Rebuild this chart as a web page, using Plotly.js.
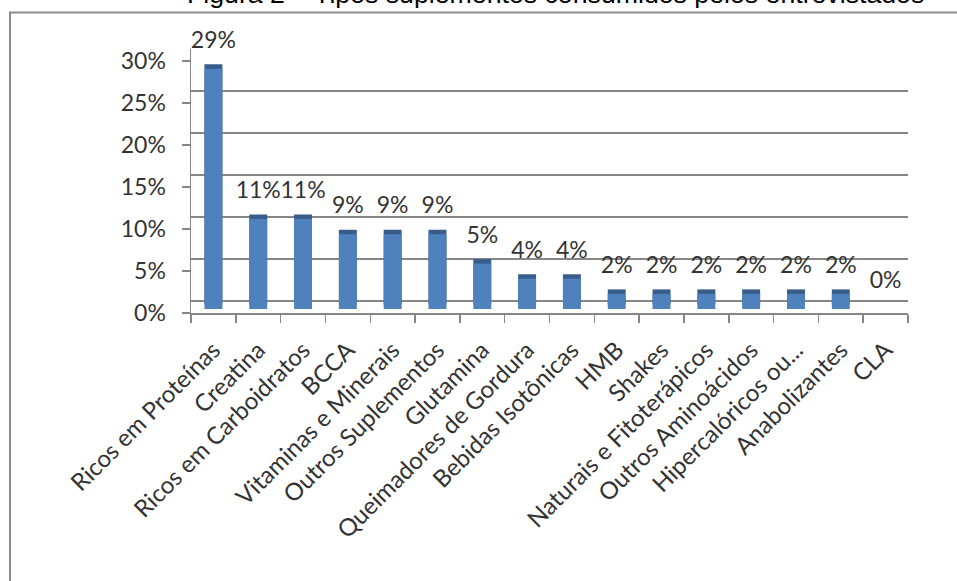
<!DOCTYPE html>
<html>
<head>
<meta charset="utf-8">
<script src="https://cdn.plot.ly/plotly-3.0.1.min.js"></script>
<style>
  html, body { margin: 0; padding: 0; background: #ffffff; }
  #chart { width: 957px; height: 581px; }
</style>
</head>
<body>
<div id="chart"></div>
<script>
// ---- data ----
const categories = [
  "Ricos em Proteínas", "Creatina", "Ricos em Carboidratos", "BCCA",
  "Vitaminas e Minerais", "Outros Suplementos", "Glutamina",
  "Queimadores de Gordura", "Bebidas Isotônicas", "HMB", "Shakes",
  "Naturais e Fitoterápicos", "Outros Aminoácidos", "Hipercalóricos ou...",
  "Anabolizantes", "CLA"
];
const percentages = [28.6, 10.7, 10.7, 8.9, 8.9, 8.9, 5.4, 3.6, 3.6, 1.8, 1.8, 1.8, 1.8, 1.8, 1.8, 0];
const yTickValues = [0, 5, 10, 15, 20, 25, 30];
const yTickLabels = ["0%", "5%", "10%", "15%", "20%", "25%", "30%"];
const chartTitle = "Figura 2 – Tipos suplementos consumidos pelos entrevistados";

// ---- styling ----
const barColor = "#4f81bd";
const capColor = "#385d8a";
const lineColor = "#868686";
const textColor = "#333333";
const font = "Lato, 'Open Sans', sans-serif";

// pixel geometry of the plot area
const W = 957, H = 581;
const L = 191, R = 908, T = 49, B = 313;
const pxPerUnit = 8.4;             // pixels per percentage point
function rangeWithZeroAt(zeroPx) {  // axis range so that 0 sits at pixel row zeroPx
  return [-(B - zeroPx) / pxPerUnit, (zeroPx - T) / pxPerUnit];
}

const traces = [
  { // anchors the front value axis (draws nothing)
    type: "scatter", mode: "none", x: categories, y: percentages, yaxis: "y",
    hoverinfo: "skip", showlegend: false
  },
  { // anchors the back-wall grid axis (draws nothing)
    type: "scatter", mode: "none", x: categories, y: percentages, yaxis: "y2",
    hoverinfo: "skip", showlegend: false
  },
  { // dark top of the 3D columns
    type: "bar", x: categories, y: percentages, yaxis: "y3",
    marker: { color: capColor }, hoverinfo: "skip", showlegend: false
  },
  { // front face of the columns
    type: "bar", x: categories, y: percentages, yaxis: "y4",
    marker: { color: barColor }, hoverinfo: "x+y", showlegend: false
  },
  { // data labels
    type: "bar", x: categories, y: percentages, yaxis: "y5",
    marker: { color: "rgba(0,0,0,0)" },
    texttemplate: "%{y:.0f}%", textposition: "outside", cliponaxis: false,
    constraintext: "none",
    textfont: { family: font, size: 23, color: textColor },
    hoverinfo: "skip", showlegend: false
  }
];

const hiddenAxis = (r) => ({
  overlaying: "y", range: r, visible: false, fixedrange: true
});

const layout = {
  width: W, height: H,
  margin: { l: L, r: W - R, t: T, b: H - B, pad: 0 },
  paper_bgcolor: "#ffffff", plot_bgcolor: "rgba(0,0,0,0)",
  bargap: 0.6,
  showlegend: false,
  font: { family: font, color: textColor },
  xaxis: {
    type: "category", domain: [0, 1],
    tickangle: -45, tickson: "boundaries",
    ticks: "outside", ticklen: 8, tickcolor: lineColor, tickwidth: 1.5,
    ticklabelstandoff: 12,
    showline: true, linecolor: lineColor, linewidth: 1.5,
    showgrid: false, zeroline: false,
    tickfont: { family: font, size: 24, color: textColor },
    fixedrange: true
  },
  yaxis: {
    range: rangeWithZeroAt(B), domain: [0, 1],
    tickmode: "array", tickvals: yTickValues, ticktext: yTickLabels,
    ticks: "outside", ticklen: 8, tickcolor: lineColor, tickwidth: 1.5,
    ticklabelstandoff: 11,
    showline: true, linecolor: lineColor, linewidth: 1.5,
    showgrid: false, zeroline: false,
    tickfont: { family: font, size: 23, color: textColor },
    fixedrange: true
  },
  yaxis2: { // back wall gridlines
    overlaying: "y", range: [rangeWithZeroAt(301)[0], 30.001],
    tickmode: "array", tickvals: yTickValues,
    showticklabels: false, ticks: "",
    showgrid: true, gridcolor: lineColor, gridwidth: 2,
    zeroline: false, showline: false, fixedrange: true
  },
  yaxis3: hiddenAxis(rangeWithZeroAt(304.5)),
  yaxis4: hiddenAxis(rangeWithZeroAt(309)),
  yaxis5: hiddenAxis(rangeWithZeroAt(296)),
  annotations: [{
    text: chartTitle, xref: "paper", yref: "paper",
    x: (555 - L) / (R - L), y: (B - 10.5) / (B - T),
    xanchor: "center", yanchor: "bottom", showarrow: false,
    font: { family: "'Liberation Sans', Arial, sans-serif", size: 26.7, color: "#000000" }
  }],
  shapes: [{
    type: "rect", xref: "paper", yref: "paper",
    x0: (10 - L) / (R - L), x1: (W + 20 - L) / (R - L),
    y0: (B - (H + 20)) / (B - T), y1: (B - 12.5) / (B - T),
    line: { color: "#8c8c8c", width: 2 }, fillcolor: "rgba(0,0,0,0)", layer: "below"
  }]
};

Plotly.newPlot("chart", traces, layout, { displayModeBar: false, staticPlot: true });
</script>
</body>
</html>
